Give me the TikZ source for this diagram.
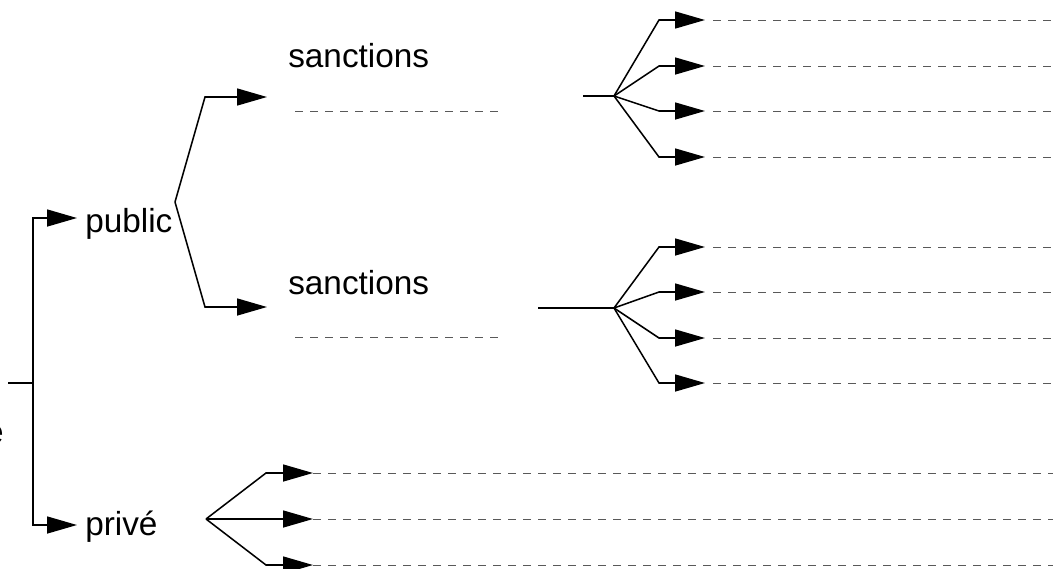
\documentclass[tikz,border=0pt]{standalone}
\usepackage{fontspec}
\setmainfont{Liberation Sans}
\usetikzlibrary{arrows.meta}

\begin{document}
\begin{tikzpicture}[
                x=0.75pt, y=-0.75pt,
                word/.style = {
                    font=\fontsize{25}{30}\selectfont,
                    inner sep = 0pt,
                    anchor = base west
                },
                arm/.style = {line width = 1.15pt},
                arrow/.style = {
                    line width = 1.15pt,
                    -{Triangle[length=22.5pt, width=12.75pt]}
                },
                blank/.style = {
                    black!65,
                    line width = 0.75pt,
                    dash pattern = on 6pt off 5.25pt
                }
            ]
            \useasboundingbox (0,0) rectangle (1060,568);
            % 
            \node[word, anchor=base east] (0) at (4,443) {e};
            \node[word] (pub) at (85,232) {public};
            \node[word] (priv) at (85,535) {privé};
            \node[word] (s1) at (288,67) {sanctions};
            \node[word] (s2) at (288,294) {sanctions};
            % 
            \coordinate (1) at (8,383);
            \coordinate (2) at (33,383);
            \coordinate (3) at (77,218);
            \coordinate (4) at (77,525);
            \coordinate (rim) at (1053,0);
            % 
            \draw[arm] (1) -- (2);
            \draw[arrow] (2) |- (3);
            \draw[arrow] (2) |- (4);
            % 
            % 
            \coordinate (5) at (175,202);
            \coordinate (6) at (205,97);
            \coordinate (7) at (267,97);
            \coordinate (8) at (205,307);
            \coordinate (9) at (267,307);
            \draw[arrow] (5) -- (6) -- (7);
            \draw[arrow] (5) -- (8) -- (9);
            % 
            \coordinate (10) at (295,111);
            \coordinate (11) at (502,111);
            \coordinate (12) at (295,337);
            \coordinate (13) at (502,337);
            \draw[blank] (10) -- (11);
            \draw[blank] (12) -- (13);
            % 
            % 
            \coordinate (14) at (583,96);
            \coordinate (15) at (614,96);
            \coordinate (16) at (659,20);
            \coordinate (17) at (659,66);
            \coordinate (18) at (659,111);
            \coordinate (19) at (659,157);
            \draw[arm] (14) -- (15);
            \draw[arrow] (15) -- (16) -- ++(46,0) coordinate (t16);
            \draw[arrow] (15) -- (17) -- ++(46,0) coordinate (t17);
            \draw[arrow] (15) -- (18) -- ++(46,0) coordinate (t18);
            \draw[arrow] (15) -- (19) -- ++(46,0) coordinate (t19);
            \draw[blank] ([xshift=6pt]t16) -- (t16 -| rim);
            \draw[blank] ([xshift=6pt]t17) -- (t17 -| rim);
            \draw[blank] ([xshift=6pt]t18) -- (t18 -| rim);
            \draw[blank] ([xshift=6pt]t19) -- (t19 -| rim);
            % 
            \coordinate (20) at (538,308);
            \coordinate (21) at (614,308);
            \coordinate (22) at (659,247);
            \coordinate (23) at (659,292);
            \coordinate (24) at (659,338);
            \coordinate (25) at (659,383);
            \draw[arm] (20) -- (21);
            \draw[arrow] (21) -- (22) -- ++(46,0) coordinate (t22);
            \draw[arrow] (21) -- (23) -- ++(46,0) coordinate (t23);
            \draw[arrow] (21) -- (24) -- ++(46,0) coordinate (t24);
            \draw[arrow] (21) -- (25) -- ++(46,0) coordinate (t25);
            \draw[blank] ([xshift=6pt]t22) -- (t22 -| rim);
            \draw[blank] ([xshift=6pt]t23) -- (t23 -| rim);
            \draw[blank] ([xshift=6pt]t24) -- (t24 -| rim);
            \draw[blank] ([xshift=6pt]t25) -- (t25 -| rim);
            % 
            % 
            \coordinate (26) at (206,519);
            \coordinate (27) at (266,473);
            \coordinate (28) at (266,519);
            \coordinate (29) at (266,565);
            \draw[arrow] (26) -- (27) -- ++(47,0) coordinate (t27);
            \draw[arrow] (26) -- (28) -- ++(47,0) coordinate (t28);
            \draw[arrow] (26) -- (29) -- ++(47,0) coordinate (t29);
            \draw[blank] (t27) -- (t27 -| rim);
            \draw[blank] (t28) -- (t28 -| rim);
            \draw[blank] (t29) -- (t29 -| rim);
            % 
        \end{tikzpicture}
\end{document}
